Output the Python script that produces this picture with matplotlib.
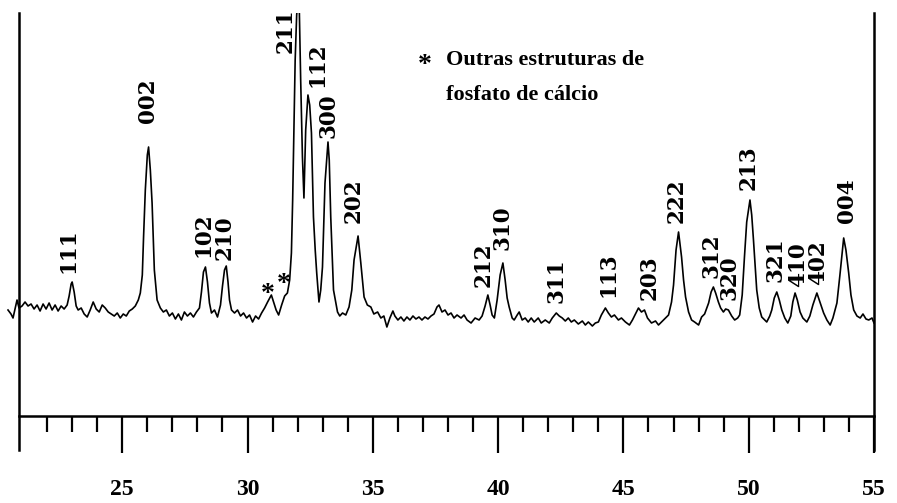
import matplotlib
matplotlib.use('Agg')
import matplotlib.pyplot as plt

# ---- XRD pattern (2theta in degrees, intensity a.u.) ----
two_theta = [20.44, 20.56, 20.64, 20.72, 20.80, 20.88, 21.00, 21.12, 21.24, 21.36,
             21.48, 21.60, 21.72, 21.84, 21.96, 22.08, 22.20, 22.32, 22.44, 22.56,
             22.68, 22.80, 22.88, 22.96, 23.00, 23.08, 23.16, 23.24, 23.36, 23.48,
             23.60, 23.72, 23.84, 23.96, 24.08, 24.20, 24.32, 24.44, 24.56, 24.68,
             24.80, 24.92, 25.04, 25.16, 25.28, 25.40, 25.52, 25.64, 25.72, 25.80,
             25.85, 25.92, 26.00, 26.05, 26.12, 26.19, 26.28, 26.39, 26.52, 26.64,
             26.76, 26.88, 27.00, 27.12, 27.24, 27.36, 27.48, 27.60, 27.72, 27.84,
             27.96, 28.08, 28.16, 28.24, 28.32, 28.40, 28.48, 28.56, 28.68, 28.80,
             28.92, 29.00, 29.08, 29.15, 29.22, 29.28, 29.36, 29.48, 29.60, 29.72,
             29.84, 29.96, 30.08, 30.20, 30.32, 30.44, 30.56, 30.68, 30.80, 30.95,
             31.04, 31.14, 31.24, 31.36, 31.48, 31.59, 31.68, 31.75, 31.80, 31.84,
             31.90, 31.96, 32.05, 32.12, 32.19, 32.25, 32.32, 32.41, 32.48, 32.55,
             32.63, 32.70, 32.76, 32.85, 32.92, 32.99, 33.09, 33.21, 33.26, 33.32,
             33.43, 33.59, 33.68, 33.79, 33.92, 34.05, 34.16, 34.25, 34.41, 34.52,
             34.65, 34.78, 34.92, 35.04, 35.19, 35.32, 35.44, 35.56, 35.68, 35.80,
             35.88, 36.00, 36.12, 36.24, 36.36, 36.48, 36.60, 36.72, 36.84, 36.96,
             37.08, 37.20, 37.32, 37.44, 37.56, 37.64, 37.76, 37.88, 38.00, 38.12,
             38.24, 38.36, 38.52, 38.64, 38.76, 38.92, 39.08, 39.24, 39.36, 39.48,
             39.59, 39.68, 39.76, 39.85, 39.96, 40.08, 40.19, 40.28, 40.36, 40.44,
             40.56, 40.64, 40.76, 40.84, 40.96, 41.08, 41.20, 41.32, 41.44, 41.60,
             41.72, 41.88, 42.04, 42.16, 42.32, 42.44, 42.56, 42.68, 42.80, 42.92,
             43.04, 43.20, 43.36, 43.48, 43.60, 43.76, 43.88, 44.00, 44.12, 44.28,
             44.40, 44.52, 44.64, 44.80, 44.92, 45.08, 45.24, 45.36, 45.48, 45.60,
             45.72, 45.84, 45.96, 46.12, 46.28, 46.40, 46.52, 46.68, 46.80, 46.92,
             47.00, 47.10, 47.20, 47.32, 47.40, 47.48, 47.60, 47.72, 47.84, 48.00,
             48.12, 48.24, 48.40, 48.50, 48.59, 48.68, 48.79, 48.88, 48.99, 49.08,
             49.19, 49.32, 49.44, 49.56, 49.64, 49.74, 49.83, 49.92, 50.05, 50.12,
             50.19, 50.32, 50.42, 50.52, 50.72, 50.84, 50.92, 51.02, 51.12, 51.22,
             51.32, 51.44, 51.56, 51.68, 51.76, 51.85, 51.94, 52.05, 52.16, 52.32,
             52.44, 52.56, 52.72, 52.84, 52.99, 53.12, 53.25, 53.36, 53.52, 53.64,
             53.79, 53.88, 53.99, 54.08, 54.19, 54.32, 54.45, 54.56, 54.68, 54.79,
             54.92, 55.00]
intensity = [106, 102, 98, 107, 116, 108, 110, 114, 110, 112,
             107, 111, 105, 112, 107, 113, 106, 111, 105, 110,
             107, 111, 120, 132, 134, 124, 110, 106, 108, 102,
             99, 106, 114, 107, 104, 111, 108, 104, 102, 100,
             103, 98, 102, 100, 105, 107, 110, 116, 123, 141,
             179, 226, 261, 269, 246, 213, 146, 116, 108, 104,
             106, 100, 103, 97, 102, 96, 104, 100, 103, 99,
             104, 108, 124, 144, 149, 134, 113, 103, 106, 99,
             111, 130, 146, 150, 134, 116, 106, 103, 106, 100,
             103, 98, 101, 94, 100, 97, 103, 108, 114, 121,
             114, 106, 101, 111, 120, 123, 136, 163, 216, 273,
             356, 401, 426, 336, 259, 218, 286, 321, 311, 283,
             199, 166, 143, 114, 126, 149, 233, 274, 256, 199,
             126, 104, 100, 103, 101, 109, 126, 156, 180, 153,
             119, 111, 109, 102, 104, 98, 100, 89, 98, 105,
             100, 96, 99, 95, 99, 96, 100, 97, 99, 96,
             99, 97, 100, 102, 109, 111, 104, 106, 101, 103,
             98, 101, 98, 101, 96, 93, 98, 96, 100, 110,
             121, 111, 101, 98, 116, 141, 153, 136, 118, 109,
             98, 96, 101, 104, 96, 98, 94, 98, 94, 98,
             93, 96, 93, 98, 103, 100, 98, 95, 98, 94,
             96, 92, 95, 91, 94, 90, 93, 94, 101, 108,
             103, 99, 101, 96, 98, 94, 91, 96, 102, 108,
             104, 106, 98, 93, 95, 91, 94, 98, 101, 114,
             131, 166, 184, 159, 136, 119, 104, 96, 94, 91,
             99, 102, 113, 124, 129, 123, 114, 108, 104, 107,
             106, 100, 96, 98, 101, 121, 159, 194, 216, 201,
             176, 126, 108, 99, 94, 100, 106, 118, 124, 116,
             106, 98, 93, 100, 114, 123, 116, 104, 98, 94,
             100, 111, 123, 114, 103, 96, 91, 98, 113, 141,
             178, 166, 143, 121, 106, 100, 98, 102, 97, 96,
             98, 93]

# ---- peak annotations (Miller indices) ----
hkl_labels = ['111', '002', '102', '210', '211', '112', '300', '202',
              '212', '310', '311', '113', '203', '222', '312', '320',
              '213', '321', '410', '402', '004']
star_labels = ['*', '*']
legend_lines = ['Outras estruturas de', 'fosfato de cálcio']
major_ticks = [25, 30, 35, 40, 45, 50, 55]
minor_ticks = [22, 23, 24, 26, 27, 28, 29, 31, 32, 33, 34, 36, 37, 38, 39,
               41, 42, 43, 44, 46, 47, 48, 49, 51, 52, 53, 54]

# label anchor positions (layout)
hkl_x = [22.85, 26.03, 28.22, 29.10, 31.52, 32.79, 33.25, 34.25,
         39.43, 40.19, 42.32, 44.39, 46.05, 47.12, 48.52, 49.25,
         49.99, 51.05, 51.99, 52.79, 53.92]
hkl_y = [143, 293, 159, 156, 363, 329, 278, 193,
         129, 166, 113, 119, 116, 193, 138, 116,
         226, 134, 129, 131, 193]
star_x = [30.79, 31.43]
star_y = [115, 125]

SERIF = ['Liberation Serif', 'DejaVu Serif']
LABEL_FONT = ['DejaVu Serif']

fig = plt.figure(figsize=(8.97, 5.03), dpi=100)
ax = fig.add_axes([7 / 897, 53 / 503, 867 / 897, 437 / 503])
ax.plot(two_theta, intensity, color='black', lw=1.2)
ax.set_xlim(20.40, 55.0)
ax.set_ylim(-34, 403)

ax.spines['top'].set_visible(False)
ax.spines['left'].set_position(('data', 20.88))
ax.spines['bottom'].set_position(('data', 0))
ax.spines['bottom'].set_bounds(20.88, 55.0)
for s in ('left', 'right', 'bottom'):
    ax.spines[s].set_linewidth(1.8)

ax.set_xticks(major_ticks)
ax.set_xticks(minor_ticks, minor=True)
ax.set_xticklabels([str(t) for t in major_ticks])
ax.tick_params(axis='x', which='major', direction='out', length=26.5, width=1.6,
               pad=19, labelsize=17)
ax.tick_params(axis='x', which='minor', direction='out', length=11.5, width=1.6)
for lab in ax.get_xticklabels():
    lab.set_fontfamily(SERIF)
    lab.set_fontweight('bold')
ax.set_yticks([])

for lab, x, y in zip(hkl_labels, hkl_x, hkl_y):
    ax.text(x, y, lab, rotation=90, ha='center', va='bottom', fontsize=15.5,
            fontweight='bold', family=LABEL_FONT, clip_on=(lab == '211'))

for lab, x, y in zip(star_labels, star_x, star_y):
    ax.text(x, y, lab, ha='center', va='baseline', fontsize=20,
            fontweight='bold', family=SERIF)

ax.text(37.08, 344, '*', ha='center', va='baseline', fontsize=20,
        fontweight='bold', family=SERIF)
ax.text(37.92, 351, legend_lines[0], ha='left', va='baseline', fontsize=16,
        fontweight='bold', family=SERIF)
ax.text(37.92, 316, legend_lines[1], ha='left', va='baseline', fontsize=16,
        fontweight='bold', family=SERIF)

fig.savefig('out.png', dpi=100)
